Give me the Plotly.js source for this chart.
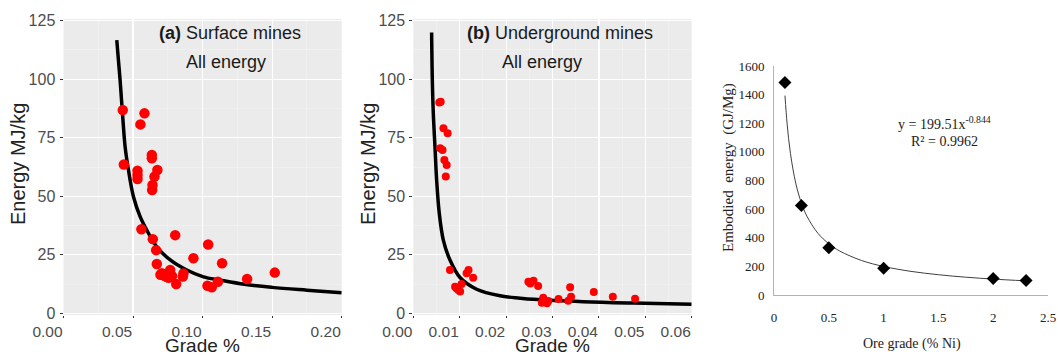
<!DOCTYPE html>
<html>
<head>
<meta charset="utf-8">
<script src="https://cdn.plot.ly/plotly-3.0.1.min.js"></script>
<style>html,body{margin:0;padding:0;background:#fff;}#chart{width:1058px;height:356px;}</style>
</head>
<body>
<div id="chart"></div>
<script>
// ---- Panel (a): surface mines ----
const surfGrade = [0.0426,0.0582,0.0553,0.0434,0.0635,0.0635,0.0532,0.0532,0.0532,0.0675,0.0654,0.0640,0.0637,0.0560,0.0642,0.0803,0.0666,0.0671,0.1040,0.0934,0.1140,0.1519,0.1320,0.0707,0.0725,0.0743,0.0767,0.0755,0.0810,0.0858,0.0862,0.1035,0.1066,0.1110,0.0697,0.0780];
const surfEnergy = [86.8,85.4,80.7,63.6,67.6,66.2,60.9,59.1,57.4,61.2,58.4,54.8,52.7,35.9,31.7,33.4,27.0,21.1,29.4,23.5,21.4,17.4,14.7,17.1,16.0,15.6,18.5,15.2,12.5,15.7,17.0,11.8,11.1,13.5,16.5,16.0];
const surfFitGrade = [0.0383,0.0395,0.0407,0.0424,0.0443,0.0467,0.0503,0.0551,0.0611,0.0671,0.0767,0.0886,0.1006,0.1126,0.13,0.15,0.175,0.2];
const surfFitEnergy = [116.7,108,99.6,85.4,71.1,61.2,49.8,41.3,34.2,28.4,22.8,18.5,15.6,14.2,12.4,11.1,9.9,8.8];

// ---- Panel (b): underground mines ----
const ugGrade = [0.0056,0.0059,0.0065,0.0074,0.0058,0.0063,0.0067,0.0072,0.0070,0.0079,0.0090,0.0097,0.0101,0.0093,0.0104,0.0115,0.0119,0.0129,0.0248,0.0259,0.0252,0.0269,0.0280,0.0277,0.0288,0.0291,0.0313,0.0338,0.0340,0.0334,0.0389,0.0430,0.0478];
const ugEnergy = [90.0,90.4,79.0,76.9,70.5,69.8,65.5,63.4,58.4,18.5,11.4,10.0,9.3,10.7,12.5,17.1,18.5,15.2,13.5,13.9,12.8,11.7,6.7,4.5,4.3,5.3,6.1,11.1,7.1,5.4,9.1,7.1,6.2];
const ugFitGrade = [0.00395,0.0041,0.00431,0.00467,0.00503,0.0056,0.00647,0.0079,0.01006,0.01365,0.01868,0.023,0.0259,0.0366,0.0474,0.06];
const ugFitEnergy = [119.9,99.7,85.4,71.2,56.9,42.7,31.3,22.8,15.3,10.3,7.5,6.5,6.0,5.0,4.4,3.9];

// ---- Panel (c): embodied energy vs Ni ore grade ----
const niGrade = [0.1,0.25,0.5,1,2,2.3];
const niEnergy = [1485,625,330,187,115,102];
const niFitGrade = [0.1,0.12,0.15,0.2,0.25,0.3,0.4,0.5,0.6,0.8,1.0,1.25,1.5,1.75,2.0,2.3];
const niFitEnergy = [1393,1194,989,776,643,551,432,358,307,241,199.5,165,141.7,124.4,111.1,98.8];

const W = 1058, H = 356;
const px = x => x / W;
const py = y => 1 - y / H;

const sans = 'Liberation Sans, Arial, sans-serif';
const serif = 'Liberation Serif, Times New Roman, serif';
const tickGrey = '#4d4d4d';

const traces = [
  {x: surfFitGrade, y: surfFitEnergy, xaxis:'x', yaxis:'y', mode:'lines', line:{color:'#000', width:3.5, shape:'spline'}, hoverinfo:'skip'},
  {x: surfGrade, y: surfEnergy, xaxis:'x', yaxis:'y', mode:'markers', marker:{color:'#ff0000', size:10.5}},
  {x: ugFitGrade, y: ugFitEnergy, xaxis:'x2', yaxis:'y2', mode:'lines', line:{color:'#000', width:3.5, shape:'spline'}, hoverinfo:'skip'},
  {x: ugGrade, y: ugEnergy, xaxis:'x2', yaxis:'y2', mode:'markers', marker:{color:'#ff0000', size:8}},
  {x: niFitGrade, y: niFitEnergy, xaxis:'x3', yaxis:'y3', mode:'lines', line:{color:'#404040', width:1, shape:'spline'}, hoverinfo:'skip'},
  {x: niGrade, y: niEnergy, xaxis:'x3', yaxis:'y3', mode:'markers', marker:{color:'#000', size:10, symbol:'diamond'}}
];

const ggY = {
  range:[-0.7,125.7], dtick:25, tick0:0, showgrid:true, gridcolor:'#ffffff', gridwidth:1.2,
  minor:{dtick:12.5, showgrid:true, gridcolor:'#f4f4f4', gridwidth:0.6},
  zeroline:false, showline:false, ticks:'outside', ticklen:3, tickcolor:'#333', tickwidth:1,
  tickfont:{family:sans, size:16, color:tickGrey}, ticklabelstandoff:1, fixedrange:true
};
function ggX(dom, rng, dt) {
  return {
    domain: dom, range: rng, dtick: dt, tick0: 0, tickformat: '.2f',
    showgrid:true, gridcolor:'#ffffff', gridwidth:1.2,
    minor:{dtick: dt/2, showgrid:true, gridcolor:'#f4f4f4', gridwidth:0.6},
    zeroline:false, showline:false, ticks:'outside', ticklen:2, tickcolor:'#333', tickwidth:1,
    tickfont:{family:sans, size:15.5, color:tickGrey}, ticklabelshift:-16, fixedrange:true
  };
}

const yDom = [py(315), py(19)];
const layout = {
  width: W, height: H,
  margin:{l:0, r:0, t:0, b:0},
  paper_bgcolor:'#ffffff', plot_bgcolor:'rgba(0,0,0,0)',
  showlegend:false,
  xaxis: Object.assign(ggX([px(63.5), px(341.7)], [0, 0.2], 0.05), {anchor:'y'}),
  yaxis: Object.assign({}, ggY, {domain: yDom, anchor:'x'}),
  xaxis2: Object.assign(ggX([px(413.3), px(691.7)], [0, 0.06], 0.01), {anchor:'y2'}),
  yaxis2: Object.assign({}, ggY, {domain: yDom, anchor:'x2'}),
  xaxis3: {
    domain:[px(774), px(1048)], range:[0, 2.5], dtick:0.5, tick0:0, anchor:'y3',
    showgrid:false, zeroline:false, showline:true, linecolor:'#b3b3b3', linewidth:1,
    ticks:'', tickfont:{family:serif, size:13, color:'#222'}, ticklabelstandoff:10, fixedrange:true
  },
  yaxis3: {
    domain:[py(295), py(66)], range:[0, 1600], dtick:200, tick0:0, anchor:'x3', tickformat:'d',
    showgrid:false, zeroline:false, showline:true, linecolor:'#b3b3b3', linewidth:1,
    ticks:'', tickfont:{family:serif, size:13, color:'#222'}, ticklabelstandoff:6, fixedrange:true
  },
  shapes: [
    {type:'rect', xref:'x domain', yref:'y domain', x0:0, x1:1, y0:0, y1:1, fillcolor:'#ebebeb', line:{width:0}, layer:'below'},
    {type:'rect', xref:'x2 domain', yref:'y2 domain', x0:0, x1:1, y0:0, y1:1, fillcolor:'#ebebeb', line:{width:0}, layer:'below'}
  ],
  annotations: [
    {text:'<b>(a)</b> Surface mines', x:px(230), y:py(33), xref:'paper', yref:'paper', showarrow:false, xanchor:'center', yanchor:'middle', font:{family:sans, size:18, color:'#1a1a1a'}},
    {text:'All energy', x:px(226), y:py(62), xref:'paper', yref:'paper', showarrow:false, xanchor:'center', yanchor:'middle', font:{family:sans, size:18, color:'#1a1a1a'}},
    {text:'<b>(b)</b> Underground mines', x:px(560), y:py(33), xref:'paper', yref:'paper', showarrow:false, xanchor:'center', yanchor:'middle', font:{family:sans, size:18, color:'#1a1a1a'}},
    {text:'All energy', x:px(542), y:py(62), xref:'paper', yref:'paper', showarrow:false, xanchor:'center', yanchor:'middle', font:{family:sans, size:18, color:'#1a1a1a'}},
    {text:'Energy MJ/kg', x:px(18), y:py(164), xref:'paper', yref:'paper', showarrow:false, textangle:-90, xanchor:'center', yanchor:'middle', font:{family:sans, size:20, color:'#222'}},
    {text:'Energy MJ/kg', x:px(368), y:py(164), xref:'paper', yref:'paper', showarrow:false, textangle:-90, xanchor:'center', yanchor:'middle', font:{family:sans, size:20, color:'#222'}},
    {text:'Grade %', x:px(202.5), y:py(345), xref:'paper', yref:'paper', showarrow:false, xanchor:'center', yanchor:'middle', font:{family:sans, size:19, color:'#222'}},
    {text:'Grade %', x:px(552.5), y:py(345), xref:'paper', yref:'paper', showarrow:false, xanchor:'center', yanchor:'middle', font:{family:sans, size:19, color:'#222'}},
    {text:'Embodied\u00a0 energy\u00a0 (GJ/Mg)', x:px(728), y:py(168), xref:'paper', yref:'paper', showarrow:false, textangle:-90, xanchor:'center', yanchor:'middle', font:{family:serif, size:15, color:'#222'}},
    {text:'Ore grade (% Ni)', x:px(912), y:py(344), xref:'paper', yref:'paper', showarrow:false, xanchor:'center', yanchor:'middle', font:{family:serif, size:14, color:'#222'}},
    {text:'y = 199.51x<sup>-0.844</sup>', x:px(944), y:py(123), xref:'paper', yref:'paper', showarrow:false, xanchor:'center', yanchor:'middle', font:{family:serif, size:14, color:'#222'}},
    {text:'R² = 0.9962', x:px(944), y:py(141), xref:'paper', yref:'paper', showarrow:false, xanchor:'center', yanchor:'middle', font:{family:serif, size:14, color:'#222'}}
  ]
};

Plotly.newPlot('chart', traces, layout, {displayModeBar:false, staticPlot:true});
</script>
</body>
</html>
